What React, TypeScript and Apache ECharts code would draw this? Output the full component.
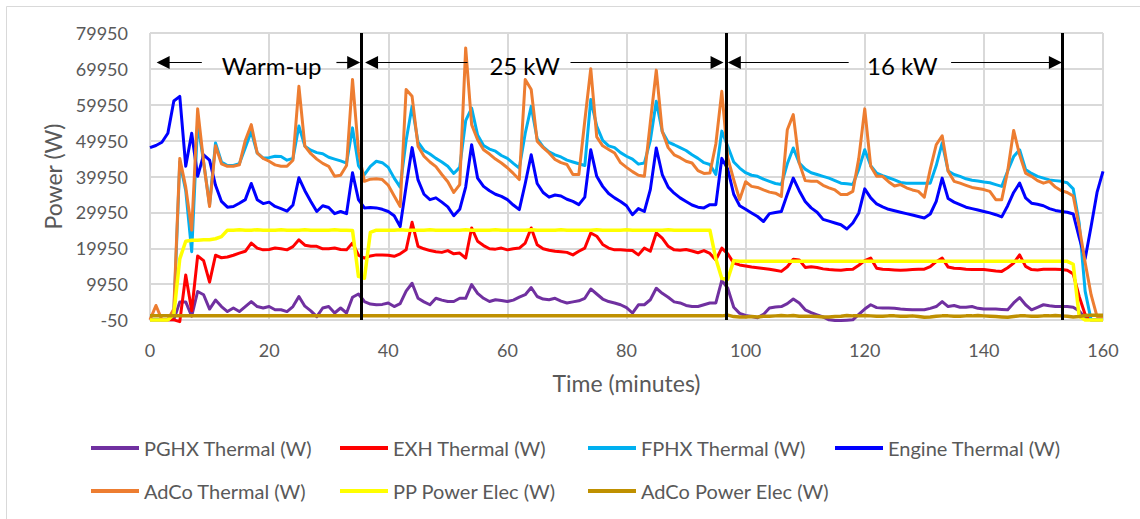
import React, { useEffect, useRef } from 'react';
import * as echarts from 'echarts';

// time axis (minutes), one sample per minute
const minutes = Array.from({ length: 161 }, (_, i) => i);

// values, in kW (converted to W when drawn)
const pghxThermalKW = [
  0, 0, 0, 0, 0, 5, 5, 1, 7.9, 7,
  3, 5.5, 3.7, 2.3, 3.3, 2.3, 3.7, 5.1, 3.7, 3.3,
  3.7, 2.8, 2.8, 2.3, 3.7, 6.5, 3.8, 2.5, 0.9, 3.3,
  3.7, 1.9, 3.3, 1.9, 6.3, 7.2, 5.1, 4.4, 4.2, 4.3,
  4.7, 3.7, 4.5, 8, 10.2, 6, 5, 4.2, 6, 5.5,
  5.1, 5.1, 6, 6, 9.8, 7.4, 6, 5.1, 5.6, 5.4,
  5.1, 5.5, 6.3, 7, 9, 6.5, 5.8, 5.6, 6, 5.2,
  4.7, 5, 5.3, 6, 8.6, 7.2, 5.8, 5.1, 4.7, 4.2,
  3.4, 1.9, 4.2, 4.2, 5.6, 8.8, 7.4, 6.3, 5, 4.7,
  4, 3.7, 3.7, 4.2, 4.7, 4.7, 11, 8.8, 3.5, 1.8,
  1.2, 0.9, 0.6, 1.5, 3.3, 3.6, 3.7, 4.5, 5.8, 4.7,
  2.8, 2, 1.4, 0.8, 0, -0.2, -0.2, -0.1, 0, 1.5,
  3, 4.2, 3.4, 3.3, 3.3, 3.2, 3, 2.9, 2.8, 2.8,
  2.8, 3.2, 3.7, 5.1, 3.7, 4, 3.5, 3.5, 3.7, 3.2,
  3, 3, 3, 2.9, 2.8, 4.7, 6.2, 4.2, 2.8, 3.5,
  4.2, 3.9, 3.7, 3.7, 3.7, 3.5, 2.5, 0.5, 0, 0,
  0,
];

const exhThermalKW = [
  0, 0, 0, 0, 0, -0.5, 12.5, 2.5, 17.8, 16.5,
  10.5, 18, 17.3, 17.5, 18, 18.6, 19.1, 21.4, 20, 19.5,
  19.6, 20, 19.8, 19.5, 20.4, 22.3, 20.8, 20.5, 20.5, 19.8,
  19.8, 20, 19.6, 19.5, 21.4, 18, 17.2, 17.8, 18.1, 18.1,
  18.0, 17.7, 18.4, 19.5, 27.2, 20.5, 19.8, 19.3, 19, 18.8,
  19.3, 18.4, 18.6, 17.2, 25.6, 21.9, 20.7, 19.8, 19.7, 20,
  19.5, 19.8, 20, 21.4, 25.6, 20.9, 19.8, 19.4, 19.1, 19.0,
  18.8, 18.1, 19.1, 20, 24.2, 23.3, 21, 20, 19.5, 19.5,
  19.4, 19.3, 18.1, 20, 19.1, 24.2, 22.8, 20.5, 19.5, 19.4,
  19.6, 19.2, 18.7, 19.3, 18.5, 16.7, 20, 18.4, 15.8, 15.3,
  15.0, 14.7, 14.5, 14.3, 14.1, 13.8, 13.5, 14.8, 16.9, 16.7,
  14.6, 14.8, 14.6, 14.2, 14.0, 13.9, 13.8, 14.0, 14.1, 15.2,
  16.5, 17.2, 14.4, 14.1, 14.0, 13.9, 13.8, 13.9, 14.0, 14.1,
  14.1, 14.8, 16.2, 17.2, 14.7, 14.4, 14.3, 14.1, 14.0, 14.0,
  14.0, 13.8, 13.6, 13.5, 14.5, 15.8, 18.1, 14.9, 14.0, 13.9,
  14.1, 14.1, 14.1, 14.0, 13.8, 12.8, 6.5, 1.5, 0, 0,
  0,
];

const fphxThermalKW = [
  0, 0, 0, 0, 1.5, 44, 36, 19, 55, 44,
  32, 49.3, 44, 43, 43, 43.5, 48, 52.5, 46.5, 45.1,
  45.2, 45.6, 45.5, 44.5, 45.0, 54.0, 48.4, 47.3, 46.6, 46.3,
  45.3, 44.8, 44.3, 43.7, 53.5, 43.0, 40.5, 42.8, 44.2, 43.8,
  42.5, 39.5, 37.0, 50.0, 59.5, 49.5, 47.2, 46.2, 45.0, 44.0,
  42.8, 40.8, 42.5, 55.5, 59.0, 51.5, 48.6, 47.6, 47.0, 45.8,
  45.0, 43.6, 42.3, 52.0, 59.5, 50.5, 48.2, 46.8, 46.0, 45.4,
  44.5, 44.0, 43.5, 43.0, 61.4, 54.0, 50.0, 48.5, 48.0, 46.6,
  45.6, 44.8, 43.4, 43.7, 50.0, 60.9, 52.5, 49.5, 48.8, 48.0,
  47.2, 46.0, 45.0, 43.8, 43.3, 40.5, 52.6, 48.4, 44.0, 42.3,
  41.0, 40.3, 40.0, 39.2, 38.6, 38.0, 37.7, 43.5, 47.9, 43.7,
  42.0, 41.0, 40.5, 40.0, 39.5, 38.8, 38.1, 37.9, 37.7, 42.0,
  47.4, 43.0, 40.9, 40.2, 39.6, 39.0, 38.3, 38.1, 38.1, 38.1,
  38.1, 38.1, 43.0, 49.3, 41.5, 40.5, 40.0, 39.3, 38.9, 38.7,
  38.4, 38.2, 37.7, 37.2, 41.5, 45.5, 47.4, 41.9, 40.8, 40.0,
  39.5, 39.0, 38.8, 38.6, 38.2, 36.5, 27.0, 8.0, 0, 0,
  0,
];

const engineThermalKW = [
  48.0, 48.6, 49.5, 52.0, 61.0, 62.3, 42.8, 52.0, 40.0, 46.0,
  44.5, 37.5, 33.0, 31.4, 31.6, 32.5, 33.5, 38.0, 33.5, 32.4,
  32.8, 31.6, 31.0, 30.3, 32.0, 39.6, 36.0, 33.0, 30.2, 31.8,
  31.3, 29.6, 30.2, 29.6, 41.0, 33.5, 31.2, 31.3, 31.2, 30.8,
  30.2, 29.0, 26.0, 37.2, 48.0, 39.0, 35.0, 33.5, 34.0, 32.8,
  31.5, 29.0, 30.8, 37.0, 48.8, 39.5, 37.2, 36.0, 35.0, 34.4,
  33.5, 32.0, 30.7, 38.0, 46.0, 38.0, 35.5, 34.2, 34.8, 34.5,
  33.6, 33.0, 32.1, 34.2, 47.4, 40.0, 37.2, 35.2, 34.0, 33.0,
  31.8, 29.3, 31.0, 30.2, 36.3, 47.9, 40.5, 37.0, 35.3, 34.0,
  33.0, 32.0, 31.4, 31.2, 32.1, 32.1, 45.0, 42.0, 35.0, 31.8,
  30.8, 29.8, 28.8, 27.4, 29.6, 29.9, 30.2, 35.0, 39.5, 36.0,
  33.0, 31.2, 30.0, 28.0, 27.5, 27.0, 26.5, 25.3, 27.0, 29.8,
  36.5, 34.0, 32.3, 31.5, 30.8, 30.4, 30.0, 29.6, 29.2, 28.8,
  28.4, 29.5, 33.0, 39.5, 33.8, 32.8, 32.1, 31.4, 31.0, 30.6,
  30.2, 29.8, 29.3, 28.7, 31.8, 35.5, 38.1, 34.0, 32.5, 32.2,
  31.8, 31.0, 30.5, 30.2, 30.0, 29.5, 23.0, 17.0, 26.0, 35.5,
  41.4,
];

const adcoThermalKW = [
  0, 4, 0, 0, 3, 45, 37, 25, 58.8, 44,
  31.6, 48.5, 43.5, 42.8, 42.8, 43.2, 50, 54.4, 46.5, 45,
  44.2, 43.2, 42.8, 42.8, 44.5, 65.1, 48.4, 46.3, 44.8, 43.6,
  42.8, 40, 40.3, 43, 67, 47, 38.6, 39.2, 39.3, 39.1,
  37.5, 34.5, 31.6, 64.2, 62.3, 48.4, 45.6, 44.0, 42.7, 40.5,
  38.5, 35.5, 37.7, 75.8, 54.4, 50.2, 47.4, 46.2, 44.8, 43.7,
  42.4, 40.8, 39.1, 67, 64.2, 49.8, 48.0, 46.5, 44.7, 43.8,
  43.3, 40.5, 40.5, 55.5, 70, 51.0, 48.5, 47.5, 46.5, 43.8,
  42.5, 41.3, 40.3, 40, 55, 69.6, 52.5, 48, 46, 45.2,
  44.2, 43.7, 41.6, 40.8, 40.9, 49, 63.7, 45.1, 39.1, 33.5,
  38.5, 37.2, 36.9, 36.2, 35.6, 35.3, 34.4, 53, 57.2, 43.7,
  38.8, 38.6, 38.6, 37.5, 36.8, 36.2, 34.9, 34.9, 35.8, 45,
  58.8, 42.8, 40, 40, 38.5, 37.3, 37.7, 36.8, 36.2, 35.8,
  34.2, 42, 48.8, 51.3, 41.4, 38.6, 38.1, 37.5, 36.9, 36.6,
  36.3, 35.8, 33.5, 33.5, 41.5, 52.8, 46, 40.9, 40, 38.8,
  38.1, 38.6, 37, 36, 35.5, 34.5, 26, 16, 7, 0.9,
  0.9,
];

const ppPowerElecKW = [
  -0.05, -0.05, -0.05, -0.05, 1.5, 17, 21.9, 22.2, 22.2, 22.3,
  22.3, 22.6, 23.2, 25, 25, 25.1, 25, 25, 25.1, 25,
  25, 25, 25.1, 25, 25, 25, 25.1, 25, 25, 25,
  25, 25.1, 25, 25, 24.9, 12.1, 11.6, 24.4, 25, 25,
  25, 25, 25.1, 25, 25, 25, 25, 25.1, 25, 25,
  25, 25, 25, 25.1, 25, 25, 25, 25, 25.1, 25,
  25, 25, 25, 25, 25.1, 25, 25, 25, 25, 25.1,
  25, 25, 25, 25, 25, 25.1, 25, 25, 25, 25,
  25.1, 25, 25, 25, 25, 25, 25, 25.1, 25, 25,
  25, 25, 25, 25, 25, 17, 11.5, 11.3, 16.5, 16.3,
  16.3, 16.3, 16.3, 16.3, 16.3, 16.3, 16.3, 16.3, 16.3, 16.3,
  16.3, 16.3, 16.3, 16.3, 16.3, 16.3, 16.3, 16.3, 16.3, 16.3,
  16.3, 16.3, 16.3, 16.3, 16.3, 16.3, 16.3, 16.3, 16.3, 16.3,
  16.3, 16.3, 16.3, 16.3, 16.3, 16.3, 16.3, 16.3, 16.3, 16.3,
  16.3, 16.3, 16.3, 16.3, 16.3, 16.3, 16.3, 16.3, 16.3, 16.3,
  16.3, 16.3, 16.3, 16.3, 16.3, 15.5, 1.0, -0.05, -0.05, -0.05,
  -0.05,
];

const adcoPowerElecKW = [
  1.1, 1.1, 1.1, 1.1, 1.1, 1.1, 1.1, 1.1, 1.1, 1.1,
  1.1, 1.1, 1.1, 1.1, 1.1, 1.1, 1.1, 1.1, 1.1, 1.1,
  1.1, 1.1, 1.1, 1.1, 1.1, 1.1, 1.1, 1.1, 1.1, 1.1,
  1.1, 1.1, 1.1, 1.1, 1.1, 1.1, 1.1, 1.1, 1.1, 1.1,
  1.1, 1.1, 1.1, 1.1, 1.1, 1.1, 1.1, 1.1, 1.1, 1.1,
  1.1, 1.1, 1.1, 1.1, 1.1, 1.1, 1.1, 1.1, 1.1, 1.1,
  1.1, 1.1, 1.1, 1.1, 1.1, 1.1, 1.1, 1.1, 1.1, 1.1,
  1.1, 1.1, 1.1, 1.1, 1.1, 1.1, 1.1, 1.1, 1.1, 1.1,
  1.1, 1.1, 1.1, 1.1, 1.1, 1.1, 1.1, 1.1, 1.1, 1.1,
  1.1, 1.1, 1.1, 1.1, 1.1, 1.1, 1.1, 1.3, 0.9, 0.8,
  0.8, 0.9, 0.8, 1.0, 1.0, 1.1, 1.2, 1.1, 1.2, 1.0,
  1.0, 1.0, 0.9, 0.8, 0.8, 0.9, 1.0, 1.2, 1.1, 1.1,
  1.2, 1.1, 1.0, 1.0, 1.1, 1.1, 1.0, 1.0, 1.1, 0.9,
  0.7, 0.8, 1.0, 1.1, 1.1, 1.0, 1.0, 1.1, 1.1, 1.2,
  1.1, 1.0, 0.9, 0.8, 0.7, 0.9, 1.1, 1.1, 1.0, 1.0,
  1.1, 1.1, 1.2, 1.1, 1.0, 0.8, 0.9, 1.2, 1.3, 1.3,
  1.3,
];

const seriesNames = [
  'PGHX Thermal (W)',
  'EXH Thermal (W)',
  'FPHX Thermal (W)',
  'Engine Thermal (W)',
  'AdCo Thermal (W)',
  'PP Power Elec (W)',
  'AdCo Power Elec (W)',
];
const seriesValues = [
  pghxThermalKW,
  exhThermalKW,
  fphxThermalKW,
  engineThermalKW,
  adcoThermalKW,
  ppPowerElecKW,
  adcoPowerElecKW,
];
const seriesColors = ['#7030A0', '#FF0000', '#00B0F0', '#0000FF', '#ED7D31', '#FFFF00', '#BF9000'];
const seriesWidths = [3, 3, 3, 3, 3, 3.5, 3.5];

// phase boundaries (minutes) and labels
const phaseBoundaries = [35.55, 96.7, 153.1];
const phaseLabels = ['Warm-up', '25 kW', '16 kW'];
const phaseLabelCenters = [20.4, 62.9, 126.3];
const arrowLevel = 71700;
const arrowSegments: [number, number][] = [
  // [tip, tail] in minutes
  [2.2, 8.7],
  [34.2, 31.3],
  [37.2, 53.3],
  [95.2, 70.6],
  [98.1, 117.3],
  [152.0, 134.5],
];

const yTicksMin = -50;
const yTicksMax = 79950;
const yTickStep = 10000;

const FONT = 'Lato, "Open Sans", sans-serif';
const GREY_TEXT = '#595959';

const legendLefts = [91, 340, 588, 835, 91, 340, 588];
const legendRows = [0, 0, 0, 0, 1, 1, 1];
const legendRowTops = [438, 481];

export default function App() {
  const ref = useRef<HTMLDivElement>(null);

  useEffect(() => {
    if (!ref.current) return;
    const chart = echarts.init(ref.current, null, { renderer: 'svg' });

    const lineSeries = seriesNames.map((name, k) => ({
      name,
      type: 'line',
      data: seriesValues[k].map((v, i) => [minutes[i], Math.round(v * 1000)]),
      showSymbol: false,
      symbol: 'none',
      clip: false,
      silent: true,
      lineStyle: { color: seriesColors[k], width: seriesWidths[k], join: 'round' },
      itemStyle: { color: seriesColors[k] },
      emphasis: { disabled: true },
    }));

    const markerSeries = {
      name: 'markers',
      type: 'line',
      data: [],
      silent: true,
      markLine: {
        silent: true,
        symbol: ['none', 'none'],
        label: { show: false },
        emphasis: { disabled: true },
        data: [
          ...phaseBoundaries.map((x) => ({
            xAxis: x,
            lineStyle: { color: '#000000', width: 3, type: 'solid' },
          })),
          ...arrowSegments.map(([tip, tail]) => [
            {
              coord: [tip, arrowLevel],
              symbol: 'triangle',
              symbolSize: 13,
              lineStyle: { color: '#000000', width: 1.2, type: 'solid' },
            },
            { coord: [tail, arrowLevel], symbol: 'none' },
          ]),
        ],
      },
      markPoint: {
        silent: true,
        symbol: 'rect',
        symbolSize: 1,
        itemStyle: { color: 'rgba(0,0,0,0)' },
        label: {
          show: true,
          position: 'inside',
          formatter: '{b}',
          color: '#000000',
          fontSize: 24,
          fontFamily: FONT,
        },
        data: phaseLabels.map((name, i) => ({
          name,
          coord: [phaseLabelCenters[i], 70900],
        })),
      },
    };

    const option = {
      animation: false,
      backgroundColor: '#ffffff',
      textStyle: { fontFamily: FONT },
      grid: { left: 150, top: 33, width: 953, height: 287, containLabel: false },
      xAxis: {
        type: 'value',
        min: 0,
        max: 160,
        interval: 20,
        name: 'Time (minutes)',
        nameLocation: 'middle',
        nameGap: 51,
        nameTextStyle: { color: GREY_TEXT, fontSize: 23, fontFamily: FONT },
        axisLine: { show: true, lineStyle: { color: '#d9d9d9', width: 2 } },
        axisTick: { show: false },
        axisLabel: { color: GREY_TEXT, fontSize: 18, margin: 21, fontFamily: FONT },
        splitLine: { show: true, lineStyle: { color: '#d9d9d9', width: 2 } },
      },
      yAxis: {
        type: 'value',
        min: yTicksMin,
        max: yTicksMax,
        interval: yTickStep,
        name: 'Power (W)',
        nameLocation: 'middle',
        nameRotate: 90,
        nameGap: 75,
        nameTextStyle: { color: GREY_TEXT, fontSize: 23, fontFamily: FONT },
        axisLine: { show: false },
        axisTick: { show: false },
        axisLabel: {
          color: GREY_TEXT,
          fontSize: 18,
          margin: 22,
          fontFamily: FONT,
          formatter: (v: number) => String(v),
        },
        splitLine: { show: true, lineStyle: { color: '#d9d9d9', width: 2 } },
      },
      legend: seriesNames.map((name, k) => ({
        data: [name],
        left: legendLefts[k],
        top: legendRowTops[legendRows[k]],
        padding: 0,
        icon: 'rect',
        itemWidth: 48,
        itemHeight: 4,
        selectedMode: false,
        textStyle: { color: GREY_TEXT, fontSize: 20, fontFamily: FONT },
      })),
      graphic: [
        {
          type: 'line',
          shape: { x1: 6.5, y1: 6.5, x2: 1140, y2: 6.5 },
          style: { stroke: '#d9d9d9', lineWidth: 1 },
          silent: true,
        },
        {
          type: 'line',
          shape: { x1: 6.5, y1: 6.5, x2: 6.5, y2: 519 },
          style: { stroke: '#d9d9d9', lineWidth: 1 },
          silent: true,
        },
      ],
      series: [...lineSeries, markerSeries],
    };

    chart.setOption(option as any);
    return () => chart.dispose();
  }, []);

  return (
    <div
      ref={ref}
      style={{ position: 'absolute', left: 0, top: 0, width: 1140, height: 519, background: '#ffffff' }}
    />
  );
}
